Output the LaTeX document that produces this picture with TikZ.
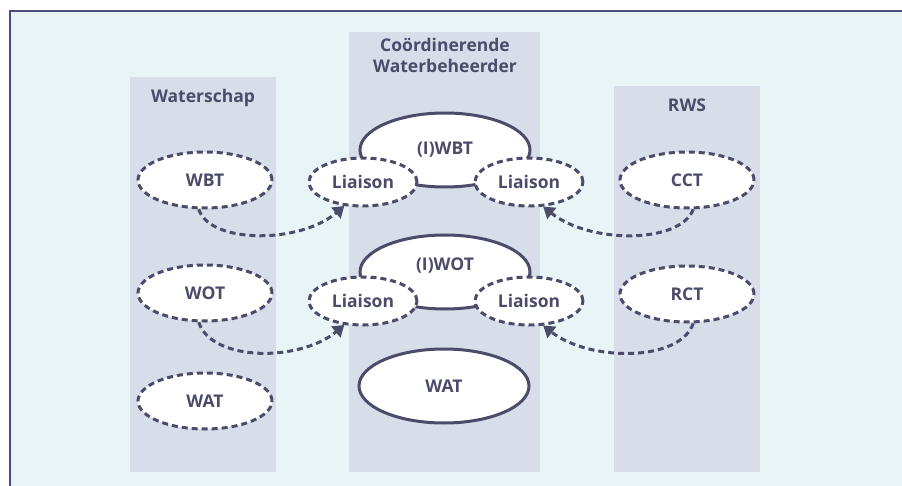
\documentclass[tikz,border=0pt]{standalone}
\usepackage{fontspec}
\setmainfont{Open Sans}
\usepackage{xcolor}
\usetikzlibrary{shapes.geometric, arrows.meta}

\definecolor{paneblue}{HTML}{E9F4F7}
\definecolor{colfill}{HTML}{D8DDEA}
\definecolor{ink}{HTML}{4B4B6A}
\definecolor{frameline}{HTML}{4B4B82}

\begin{document}
\begin{tikzpicture}[x=1pt, y=1pt,
    every node/.style={font=\bfseries\fontsize{17.5}{21}\selectfont, text=ink},
    column/.style={fill=colfill, inner sep=0pt, minimum width=146pt},
    team/.style={ellipse, draw=ink, fill=white, line width=3pt,
        dash pattern=on 6pt off 4pt, inner sep=0pt,
        minimum width=134pt, minimum height=56pt},
    liaison/.style={team, minimum width=108pt, minimum height=48pt},
    core/.style={ellipse, draw=ink, fill=white, line width=3pt,
        inner sep=0pt, minimum width=170pt, minimum height=74pt},
    link/.style={draw=ink, line width=3pt, dash pattern=on 6pt off 4pt,
        -{Triangle[width=14pt, length=11pt]}}]

    % background and frame
    \fill[white] (0,0) rectangle (902,-486);
    \useasboundingbox (0,0) rectangle (902,-486);
    \fill[paneblue] (10,-11) rectangle (902,-486);
    \draw[frameline, line width=2pt] (10,-486) -- (10,-11) -- (902,-11);

    % columns
    \node[column, minimum height=395pt] (wscol) at (203,-274.5) {};
    \node[column, minimum width=191pt, minimum height=440pt] (cwcol) at (444.5,-252) {};
    \node[column, minimum height=386pt] (rwscol) at (687,-279) {};

    \node (wstitle) at (203,-98) {Waterschap};
    \node[align=center] (cwtitle) at (445,-55) {Coördinerende\\Waterbeheerder};
    \node (rwstitle) at (687,-105) {RWS};

    % waterschap
    \node[team] (WBT) at (205,-180) {WBT};
    \node[team] (WOT) at (205,-293) {WOT};
    \node[team] (WAT) at (205,-401) {WAT};

    % coordinerende waterbeheerder
    \node[core] (IWBT) at (445,-150) {(I)WBT};
    \node[core] (IWOT) at (445,-272) {};
    \node (iwotlabel) at (445,-266) {(I)WOT};
    \node[core] (CWAT) at (444,-386) {WAT};
    \node[liaison] (LB1) at (363,-182) {Liaison};
    \node[liaison] (LB2) at (529,-182) {Liaison};
    \node[liaison] (LO1) at (363,-301) {Liaison};
    \node[liaison] (LO2) at (529,-301) {Liaison};

    % rws
    \node[team] (CCT) at (687,-180) {CCT};
    \node[team] (RCT) at (687,-294) {RCT};

    \draw[link] (WBT.258) .. controls (210,-244) and (300,-244) .. (LB1.232);
    \draw[link] (CCT.282) .. controls (680,-244) and (590,-244) .. (LB2.300);
    \draw[link] (WOT.258) .. controls (212,-362) and (300,-362) .. (LO1.232);
    \draw[link] (RCT.282) .. controls (680,-362) and (590,-362) .. (LO2.300);
\end{tikzpicture}
\end{document}
